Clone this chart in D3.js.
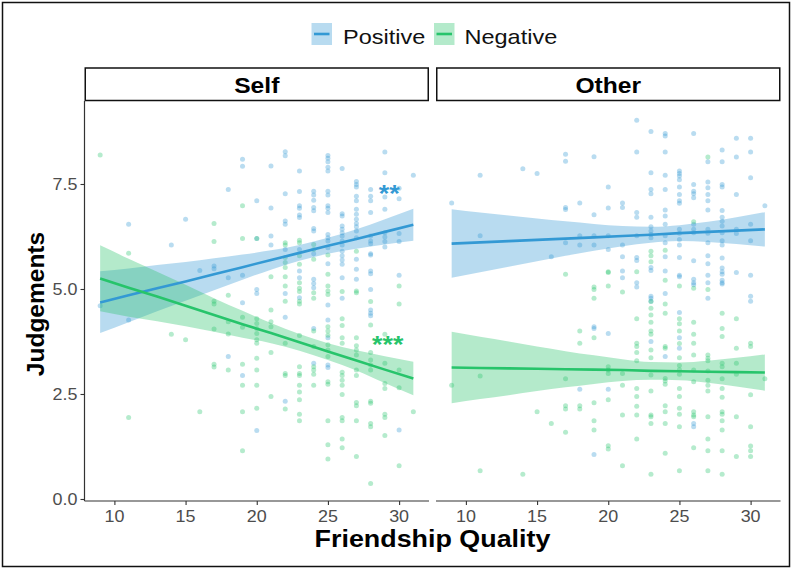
<!DOCTYPE html>
<html>
<head>
<meta charset="utf-8">
<script src="https://cdn.jsdelivr.net/npm/d3@7"></script>
<style>
  html, body { margin: 0; padding: 0; background: #fff; }
  text { font-family: "Liberation Sans", Arial, Helvetica, sans-serif; }
</style>
</head>
<body>
<svg id="chart" width="793" height="570"></svg>
<script>
// ---- Data -------------------------------------------------------------
// Scatter points: [friendship quality, [judgement values...]]
const selfPositive = [
  [9, [4.6]], [11, [6.54, 4.26]], [14, [6.05]], [15, [6.66]], [16, [5.44]],
  [17, [5.55, 5.48]], [18, [7.37, 5.27, 3.39]], [19, [8.09, 7.92, 5.33, 4.67, 2.94]],
  [20, [7.1, 6.2, 4.99, 4.89, 1.63]], [21, [7.93, 6.93, 6.26, 6.05]],
  [22, [8.27, 8.17, 7.27, 6.62, 6.54, 5.94, 4.89, 4.33, 2.33]],
  [23, [7.81, 7.32, 6.98, 6.92, 6.76, 6.7, 5.94, 5.43, 5.27, 4.79]],
  [24, [7.33, 7.24, 7.11, 6.94, 6.86, 6.44, 6.38, 5.84, 5.23, 5.13, 5.03, 4.06, 3.23]],
  [25, [8.18, 8.11, 8.03, 7.9, 7.81, 7.33, 7.24, 6.98, 6.92, 6.82, 6.3, 6.22, 6.14, 5.98, 5.6, 4.62, 4.26, 3.84, 3.19, 3.13]],
  [26, [7.87, 6.79, 6.74, 6.5, 6.42, 6.34, 6.26, 6.14, 6.05, 5.9, 5.79, 5.69, 5.59, 5.27, 4.78]],
  [27, [7.56, 7.49, 7.43, 7.21, 7.1, 6.9, 6.78, 6.66, 6.56, 6.48, 6.38, 6.22, 5.71, 5.47, 5.23]],
  [28, [7.37, 7.21, 7.1, 6.82, 6.26, 6.14, 6.08, 5.84, 5.81, 5.43, 5.36, 4.99, 4.5, 4.42, 4.36]],
  [29, [8.26, 7.77, 7.19, 6.9, 6.34, 6.24, 6.13, 6.0]],
  [30, [7.4, 7.15, 6.32, 6.13, 5.33, 1.64]], [31, [7.71]]
];
const selfNegative = [
  [9, [8.19]], [11, [5.85, 1.94]], [14, [3.92]], [15, [3.79]], [16, [2.08]],
  [17, [6.56, 6.13, 4.71, 4.64, 4.05, 3.21, 3.14]], [18, [4.85, 4.22, 3.93, 3.07]],
  [19, [6.98, 6.2, 4.33, 4.09, 3.21, 2.71, 2.08, 1.15]],
  [20, [6.2, 4.29, 4.18, 4.06, 3.94, 3.79, 3.71, 3.35, 3.07, 2.71, 2.16]],
  [21, [5.29, 4.5, 4.22, 4.1, 3.49, 2.44]],
  [22, [6.1, 6.05, 5.75, 5.63, 5.51, 5.29, 5.07, 4.71, 3.71, 2.99, 2.94, 2.14]],
  [23, [6.16, 6.1, 5.79, 5.59, 5.15, 5.02, 4.94, 4.71, 4.64, 3.89, 3.15, 2.99, 2.94, 2.71, 2.55, 2.36, 2.02, 1.86]],
  [24, [6.06, 5.94, 5.71, 4.91, 4.78, 4.0, 3.63, 3.15, 3.07, 2.97, 2.71]],
  [25, [5.81, 5.35, 5.07, 4.95, 4.87, 4.1, 4.0, 3.9, 3.67, 3.55, 3.39, 2.79, 2.73, 1.86, 1.29, 0.95]],
  [26, [4.94, 4.29, 4.13, 3.84, 3.71, 3.02, 2.94, 2.83, 2.71, 2.49, 1.94, 1.86, 1.43, 1.22]],
  [27, [5.9, 4.95, 4.91, 3.84, 3.65, 3.55, 3.43, 3.07, 2.94, 2.3, 2.22, 1.86, 1.01]],
  [28, [4.7, 4.14, 3.49, 3.31, 3.19, 3.07, 2.33, 2.28, 1.8, 1.72, 0.37]],
  [29, [3.92, 3.23, 2.75, 2.63, 2.02, 1.94, 1.51]],
  [30, [5.07, 4.64, 3.07, 2.65, 0.79]], [31, [2.08]]
];
const otherPositive = [
  [9, [7.05]], [11, [7.71, 6.27]], [14, [7.86]], [15, [7.75]], [16, [5.77]],
  [17, [8.21, 8.04, 6.94, 6.89, 6.1]], [18, [7.05, 6.27, 6.05, 2.61]],
  [19, [8.15, 6.77, 6.27, 6.05, 4.1, 4.06, 1.06]],
  [20, [7.43, 6.93, 6.27, 5.94, 3.94, 2.61]],
  [21, [7.05, 6.94, 6.05, 5.77, 5.43, 5.27]],
  [22, [9.02, 8.26, 6.82, 6.71, 6.27, 5.75, 5.68, 5.15, 5.05]],
  [23, [8.75, 7.77, 7.37, 7.27, 6.71, 6.48, 6.38, 6.3, 6.22, 5.51, 5.44, 4.83, 4.78, 4.71, 3.75]],
  [24, [8.7, 8.64, 8.26, 7.71, 7.37, 6.88, 6.74, 6.54, 6.27, 6.1, 5.77, 5.43, 4.89, 3.39]],
  [25, [7.81, 7.75, 7.69, 7.6, 7.43, 7.25, 7.1, 7.04, 6.42, 6.33, 6.18, 6.05, 5.75, 5.33, 5.29, 4.44, 3.84, 3.59]],
  [26, [8.7, 7.49, 7.33, 7.27, 7.17, 6.54, 6.42, 6.34, 5.67, 5.23, 5.15, 5.1, 1.8, 1.72]],
  [27, [8.03, 7.55, 7.41, 7.25, 7.1, 6.88, 6.42, 6.33, 6.1, 5.79, 5.6, 5.33, 5.15, 4.78]],
  [28, [8.31, 8.03, 7.49, 7.43, 6.87, 6.71, 6.61, 6.5, 6.34, 6.15, 6.05, 5.74, 5.5, 5.41, 5.35, 5.21, 5.15, 5.12]],
  [29, [8.59, 8.14, 7.25, 6.42, 6.32, 5.39]],
  [30, [8.59, 8.26, 7.65, 6.54, 6.15, 5.33, 4.83, 4.71]], [31, [6.98]]
];
const otherNegative = [
  [9, [2.71]], [11, [2.93, 0.67]], [14, [0.59]], [15, [2.08]], [16, [1.8]],
  [17, [5.35, 2.86, 2.22, 2.14, 1.59]], [18, [4.0, 3.71, 2.22, 2.14]],
  [19, [5.05, 4.99, 4.78, 3.84, 2.29, 1.86, 1.64]],
  [20, [5.41, 5.39, 5.07, 3.15, 3.07, 2.99, 2.36, 1.27, 1.19]],
  [21, [4.93, 2.99, 2.71, 2.0, 0.79]],
  [22, [5.41, 4.29, 3.71, 3.63, 3.49, 3.29, 2.63, 2.44, 2.21, 2.0, 1.43]],
  [23, [5.9, 5.79, 5.65, 4.7, 4.54, 4.38, 4.21, 4.0, 3.92, 3.55, 3.36, 2.95, 2.57, 2.0, 1.96, 1.8, 0.59]],
  [24, [5.92, 5.21, 4.64, 4.42, 3.63, 3.59, 2.87, 2.81, 2.73, 2.22, 2.08, 1.8, 1.09]],
  [25, [5.07, 4.29, 4.17, 4.0, 3.7, 3.36, 3.18, 3.08, 2.97, 2.63, 2.44, 2.16, 2.02, 1.72, 0.67]],
  [26, [6.6, 5.02, 4.21, 3.92, 3.71, 3.43, 3.07, 2.79, 2.08, 2.0, 1.96, 1.22]],
  [27, [8.14, 4.99, 3.43, 3.35, 3.29, 3.05, 2.83, 2.71, 2.57, 1.96, 1.43, 1.15, 0.67]],
  [28, [4.42, 4.06, 3.87, 3.23, 3.15, 2.86, 2.63, 2.42, 2.08, 2.02, 1.86, 1.64, 1.15, 0.59]],
  [29, [4.29, 3.59, 3.23, 2.97, 1.96, 1.01]],
  [30, [3.71, 3.63, 2.48, 1.72, 1.26, 1.15, 1.01]], [31, [2.86]]
];

// Fitted regression lines with 95% confidence bands, evaluated at fitX
const fitX = [9, 11, 13, 15, 17, 19, 21, 23, 25, 27, 29, 31];
const selfPosFit   = [4.68, 4.85, 5.02, 5.18, 5.35, 5.52, 5.69, 5.86, 6.03, 6.19, 6.36, 6.53];
const selfPosLower = [3.95, 4.21, 4.47, 4.72, 4.97, 5.22, 5.46, 5.67, 5.84, 5.96, 6.06, 6.15];
const selfPosUpper = [5.42, 5.49, 5.57, 5.64, 5.73, 5.82, 5.92, 6.05, 6.22, 6.42, 6.66, 6.91];
const selfNegFit   = [5.25, 5.03, 4.82, 4.60, 4.38, 4.16, 3.95, 3.73, 3.51, 3.30, 3.08, 2.87];
const selfNegLower = [4.47, 4.34, 4.23, 4.11, 3.98, 3.84, 3.71, 3.53, 3.31, 3.06, 2.76, 2.47];
const selfNegUpper = [6.04, 5.72, 5.41, 5.10, 4.78, 4.48, 4.19, 3.93, 3.71, 3.54, 3.40, 3.27];
const otherPosFit   = [6.08, 6.11, 6.14, 6.17, 6.20, 6.23, 6.26, 6.29, 6.33, 6.36, 6.39, 6.42];
const otherPosLower = [5.27, 5.40, 5.53, 5.66, 5.79, 5.91, 6.02, 6.10, 6.14, 6.12, 6.07, 6.01];
const otherPosUpper = [6.90, 6.82, 6.75, 6.68, 6.61, 6.55, 6.50, 6.48, 6.52, 6.60, 6.71, 6.83];
const otherNegFit   = [3.13, 3.12, 3.11, 3.10, 3.09, 3.08, 3.07, 3.05, 3.04, 3.03, 3.02, 3.01];
const otherNegLower = [2.28, 2.38, 2.47, 2.57, 2.66, 2.74, 2.81, 2.84, 2.83, 2.77, 2.68, 2.58];
const otherNegUpper = [3.98, 3.86, 3.75, 3.63, 3.52, 3.42, 3.33, 3.26, 3.25, 3.29, 3.36, 3.44];

// Axis ticks and labels
const xTicks = [10, 15, 20, 25, 30];
const yTicks = [0, 2.5, 5, 7.5];
const yTickLabels = ["0.0", "2.5", "5.0", "7.5"];
const facetNames = ["Self", "Other"];
const seriesNames = ["Positive", "Negative"];

// Significance markers placed beside the fitted lines
const markers = [
  { facet: "Self", series: "Positive", x: 29.3, y: 7.39, label: "**" },
  { facet: "Self", series: "Negative", x: 29.2, y: 3.79, label: "***" }
];

// ---- Styling ----------------------------------------------------------
const colors = { Positive: "#3399d4", Negative: "#27c46b" };
const ribbonFill = { Positive: "#3399d4", Negative: "#27c46b" };
const stretch = 1.12; // horizontal glyph stretch

const svg = d3.select("#chart");
const W = 793, H = 570;

svg.append("rect").attr("x", 0).attr("y", 0).attr("width", W).attr("height", H).attr("fill", "#fff");
// outer frame
svg.append("rect")
  .attr("x", 2.5).attr("y", 2.5).attr("width", 787).attr("height", 564)
  .attr("fill", "none").attr("stroke", "#111").attr("stroke-width", 1.5);

const panelTop = 101, panelBottom = 501;
const panelBounds = { Self: [84.5, 429], Other: [436, 780.5] };
const stripTop = 68;

const y = d3.scaleLinear().domain([-0.048, 9.476]).range([panelBottom, panelTop]);

function addText(g, x, yy, txt, opts) {
  const t = g.append("text")
    .attr("transform", `translate(${x},${yy}) scale(${opts.sx || 1},1)`)
    .attr("text-anchor", opts.anchor || "start")
    .attr("font-size", opts.size)
    .attr("font-weight", opts.weight || "normal")
    .attr("fill", opts.fill || "#000")
    .text(txt);
  return t;
}

function flatten(cols) {
  const out = [];
  cols.forEach(([xv, ys]) => ys.forEach(v => out.push([xv, v])));
  return out;
}

const fits = {
  Self: {
    Positive: { pts: selfPositive, fit: selfPosFit, lo: selfPosLower, hi: selfPosUpper },
    Negative: { pts: selfNegative, fit: selfNegFit, lo: selfNegLower, hi: selfNegUpper }
  },
  Other: {
    Positive: { pts: otherPositive, fit: otherPosFit, lo: otherPosLower, hi: otherPosUpper },
    Negative: { pts: otherNegative, fit: otherNegFit, lo: otherNegLower, hi: otherNegUpper }
  }
};

facetNames.forEach((facet, i) => {
  const [left, right] = panelBounds[facet];
  const x = d3.scaleLinear().domain([7.9, 32.1]).range([left, right]);
  const g = svg.append("g");

  // points
  seriesNames.forEach(s => {
    g.append("g").selectAll("circle")
      .data(flatten(fits[facet][s].pts))
      .join("circle")
      .attr("cx", d => x(d[0]))
      .attr("cy", d => y(d[1]))
      .attr("r", 2.5)
      .attr("fill", colors[s])
      .attr("fill-opacity", 0.34);
  });

  // confidence bands
  seriesNames.forEach(s => {
    const f = fits[facet][s];
    const rows = fitX.map((xv, k) => ({ x: xv, lo: f.lo[k], hi: f.hi[k], fit: f.fit[k] }));
    const area = d3.area()
      .x(d => x(d.x)).y0(d => y(d.lo)).y1(d => y(d.hi))
      .curve(d3.curveMonotoneX);
    g.append("path").datum(rows)
      .attr("d", area)
      .attr("fill", ribbonFill[s])
      .attr("fill-opacity", 0.35);
  });

  // fitted lines
  seriesNames.forEach(s => {
    const f = fits[facet][s];
    const rows = fitX.map((xv, k) => ({ x: xv, fit: f.fit[k] }));
    g.append("path").datum(rows)
      .attr("d", d3.line().x(d => x(d.x)).y(d => y(d.fit)))
      .attr("fill", "none")
      .attr("stroke", colors[s])
      .attr("stroke-width", 2.6);
  });

  // x axis
  const xAxis = d3.axisBottom(x).tickValues(xTicks).tickSize(4).tickPadding(4).tickFormat(d3.format("d"));
  const ax = svg.append("g").attr("transform", `translate(0,${panelBottom})`).call(xAxis);
  ax.select(".domain").attr("stroke", "#333").attr("stroke-width", 1.2)
    .attr("d", `M${left},0H${right}`);
  ax.selectAll(".tick line").attr("stroke", "#333").attr("stroke-width", 1.1);
  ax.selectAll(".tick text").remove();
  xTicks.forEach(t => {
    addText(ax, x(t), 21, String(t), { size: 16, anchor: "middle", fill: "#4d4d4d", sx: stretch });
  });

  // facet strip
  svg.append("rect")
    .attr("x", left + 0.75).attr("y", stripTop)
    .attr("width", right - left - 1.5).attr("height", panelTop - stripTop - 0.5)
    .attr("fill", "#fff").attr("stroke", "#111").attr("stroke-width", 1.5);
  addText(svg, (left + right) / 2, 93, facet, { size: 22, weight: "bold", anchor: "middle", sx: stretch });

  // significance markers
  markers.filter(m => m.facet === facet).forEach(m => {
    addText(svg, x(m.x), y(m.y) + 13.5, m.label,
      { size: 24, weight: "bold", anchor: "middle", fill: colors[m.series], sx: stretch });
  });

  // y axis on the first panel only
  if (i === 0) {
    const yAxis = d3.axisLeft(y).tickValues(yTicks).tickSize(4).tickFormat("");
    const ay = svg.append("g").attr("transform", `translate(${left},0)`).call(yAxis);
    ay.select(".domain").attr("stroke", "#333").attr("stroke-width", 1.2)
      .attr("d", `M0,${panelTop}V${panelBottom}`);
    ay.selectAll(".tick line").attr("stroke", "#333").attr("stroke-width", 1.1);
    yTicks.forEach((t, k) => {
      addText(ay, -7, y(t) + 5.6, yTickLabels[k], { size: 16, anchor: "end", fill: "#4d4d4d", sx: stretch });
    });
  }
});

// axis titles
addText(svg, (panelBounds.Self[0] + panelBounds.Other[1]) / 2, 547, "Friendship Quality",
  { size: 24, weight: "bold", anchor: "middle", sx: stretch });
svg.append("text")
  .attr("transform", `translate(44,${(panelTop + panelBottom) / 2 + 3}) rotate(-90)`)
  .attr("text-anchor", "middle").attr("font-size", 24.5).attr("font-weight", "bold")
  .attr("fill", "#000").text("Judgements");

// legend
const legendKeys = [
  { s: "Positive", kx: 311.5, tx: 343 },
  { s: "Negative", kx: 434, tx: 464.5 }
];
const lg = svg.append("g");
legendKeys.forEach(k => {
  lg.append("rect").attr("x", k.kx).attr("y", 23).attr("width", 20.5).attr("height", 22)
    .attr("fill", ribbonFill[k.s]).attr("fill-opacity", 0.35);
  lg.append("line").attr("x1", k.kx + 2.5).attr("x2", k.kx + 18).attr("y1", 34).attr("y2", 34)
    .attr("stroke", colors[k.s]).attr("stroke-width", 2.6);
  addText(lg, k.tx, 44, k.s, { size: 21, fill: "#111", sx: stretch });
});
</script>
</body>
</html>
